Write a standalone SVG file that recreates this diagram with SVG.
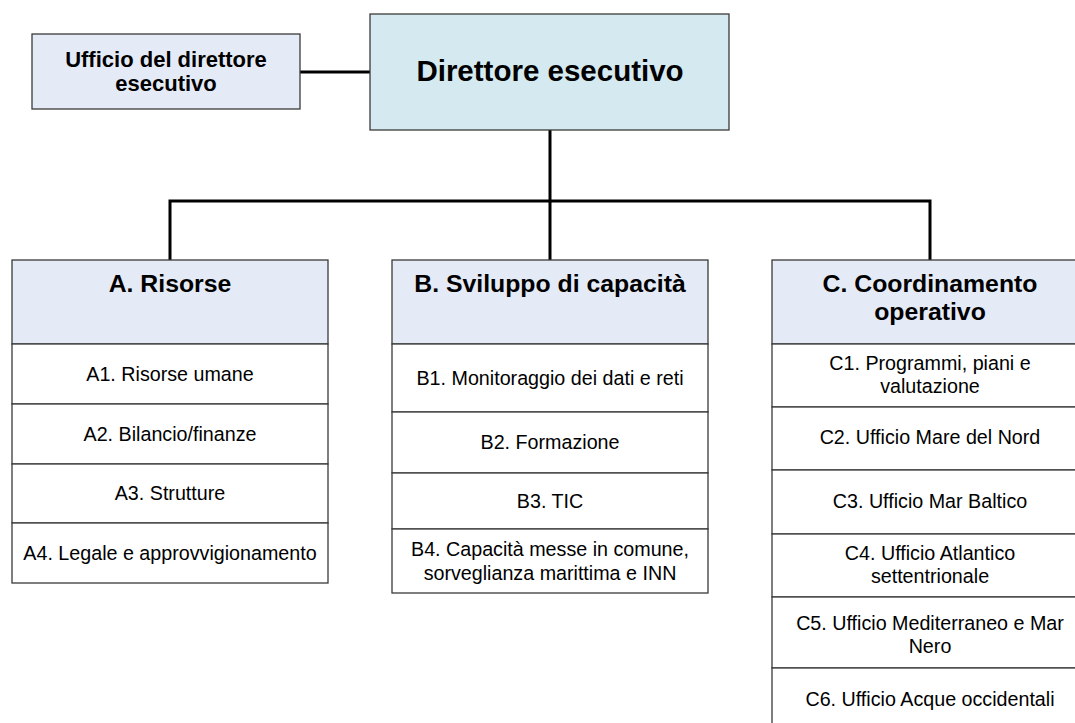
<svg xmlns="http://www.w3.org/2000/svg" width="1075" height="723" viewBox="0 0 1075 723">
<style>
.box{fill:#ffffff;stroke:#3a3a3a;stroke-width:1.3}
.hdr{fill:#e5ebf6;stroke:#3a3a3a;stroke-width:1.3}
.dir{fill:#d4eaf0;stroke:#3a3a3a;stroke-width:1.3}
.con{stroke:#000;stroke-width:3;fill:none}
text{font-family:"Liberation Sans",Arial,sans-serif;fill:#000;text-anchor:middle}
.b{font-weight:bold}
.h{font-size:24.8px;font-weight:bold}
.s{font-size:19.7px}
</style>
<rect width="1075" height="723" fill="#fff"/>
<g id="connectors">
<line class="con" x1="300" y1="72" x2="370" y2="72"/>
<line class="con" x1="550" y1="130" x2="550" y2="201"/>
<polyline class="con" points="170,260 170,201 930,201 930,260"/>
<line class="con" x1="550" y1="201" x2="550" y2="260"/>
</g>
<g id="ufficio">
<rect class="hdr" x="32" y="34" width="268" height="75"/>
<text class="b" x="166" y="67" font-size="22">Ufficio del direttore</text>
<text class="b" x="166" y="91" font-size="22">esecutivo</text>
</g>
<g id="direttore">
<rect class="dir" x="370" y="14" width="359" height="116"/>
<text class="b" x="550" y="81" font-size="29.5">Direttore esecutivo</text>
</g>
<g id="A">
<rect class="hdr" x="12" y="260" width="316" height="84"/>
<text class="h" x="170" y="292">A. Risorse</text>
<rect class="box" x="12" y="344" width="316" height="60"/>
<text class="s" x="170" y="381">A1. Risorse umane</text>
<rect class="box" x="12" y="404" width="316" height="60"/>
<text class="s" x="170" y="441">A2. Bilancio/finanze</text>
<rect class="box" x="12" y="464" width="316" height="59"/>
<text class="s" x="170" y="500">A3. Strutture</text>
<rect class="box" x="12" y="523" width="316" height="60"/>
<text class="s" x="170" y="560">A4. Legale e approvvigionamento</text>
</g>
<g id="B">
<rect class="hdr" x="392" y="260" width="316" height="84"/>
<text class="h" x="550" y="292">B. Sviluppo di capacità</text>
<rect class="box" x="392" y="344" width="316" height="68"/>
<text class="s" x="550" y="385">B1. Monitoraggio dei dati e reti</text>
<rect class="box" x="392" y="412" width="316" height="61"/>
<text class="s" x="550" y="449">B2. Formazione</text>
<rect class="box" x="392" y="473" width="316" height="56"/>
<text class="s" x="550" y="508">B3. TIC</text>
<rect class="box" x="392" y="529" width="316" height="64"/>
<text class="s" x="550" y="556">B4. Capacità messe in comune,</text>
<text class="s" x="550" y="580">sorveglianza marittima e INN</text>
</g>
<g id="C">
<rect class="hdr" x="772" y="260" width="316" height="84"/>
<text class="h" x="930" y="292">C. Coordinamento</text>
<text class="h" x="930" y="320">operativo</text>
<rect class="box" x="772" y="344" width="316" height="63"/>
<text class="s" x="930" y="370">C1. Programmi, piani e</text>
<text class="s" x="930" y="393">valutazione</text>
<rect class="box" x="772" y="407" width="316" height="63"/>
<text class="s" x="930" y="444">C2. Ufficio Mare del Nord</text>
<rect class="box" x="772" y="470" width="316" height="64"/>
<text class="s" x="930" y="508">C3. Ufficio Mar Baltico</text>
<rect class="box" x="772" y="534" width="316" height="63"/>
<text class="s" x="930" y="560">C4. Ufficio Atlantico</text>
<text class="s" x="930" y="583">settentrionale</text>
<rect class="box" x="772" y="597" width="316" height="71"/>
<text class="s" x="930" y="630">C5. Ufficio Mediterraneo e Mar</text>
<text class="s" x="930" y="653">Nero</text>
<rect class="box" x="772" y="668" width="316" height="70"/>
<text class="s" x="930" y="706">C6. Ufficio Acque occidentali</text>
</g>
</svg>
